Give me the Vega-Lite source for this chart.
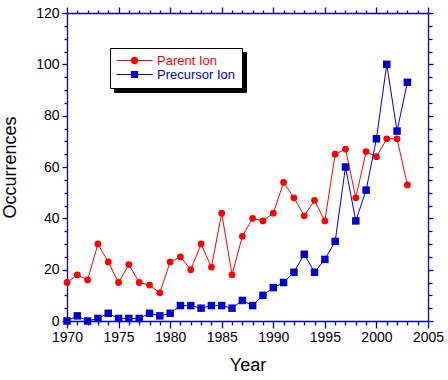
{
  "$schema": "https://vega.github.io/schema/vega-lite/v6.json",
  "width": 361,
  "height": 308,
  "autosize": {"type": "none"},
  "padding": {"left": 67, "top": 13, "right": 20, "bottom": 59},
  "background": "white",
  "config": {
    "view": {"stroke": null},
    "font": "Liberation Sans",
    "axis": {
      "domainColor": "#0000cc",
      "domainWidth": 1.3,
      "tickColor": "#0000cc",
      "tickWidth": 1.3,
      "labelColor": "black",
      "labelFont": "Liberation Sans",
      "labelFontSize": 14,
      "titleFont": "Liberation Sans",
      "titleFontSize": 18,
      "titleFontWeight": "normal",
      "titleColor": "black",
      "grid": false,
      "labelOverlap": false,
      "labelFlush": false
    }
  },
  "data": {
    "values": [
      {"year": 1970, "series": "Parent Ion", "value": 15},
      {"year": 1971, "series": "Parent Ion", "value": 18},
      {"year": 1972, "series": "Parent Ion", "value": 16},
      {"year": 1973, "series": "Parent Ion", "value": 30},
      {"year": 1974, "series": "Parent Ion", "value": 23},
      {"year": 1975, "series": "Parent Ion", "value": 15},
      {"year": 1976, "series": "Parent Ion", "value": 22},
      {"year": 1977, "series": "Parent Ion", "value": 15},
      {"year": 1978, "series": "Parent Ion", "value": 14},
      {"year": 1979, "series": "Parent Ion", "value": 11},
      {"year": 1980, "series": "Parent Ion", "value": 23},
      {"year": 1981, "series": "Parent Ion", "value": 25},
      {"year": 1982, "series": "Parent Ion", "value": 20},
      {"year": 1983, "series": "Parent Ion", "value": 30},
      {"year": 1984, "series": "Parent Ion", "value": 21},
      {"year": 1985, "series": "Parent Ion", "value": 42},
      {"year": 1986, "series": "Parent Ion", "value": 18},
      {"year": 1987, "series": "Parent Ion", "value": 33},
      {"year": 1988, "series": "Parent Ion", "value": 40},
      {"year": 1989, "series": "Parent Ion", "value": 39},
      {"year": 1990, "series": "Parent Ion", "value": 42},
      {"year": 1991, "series": "Parent Ion", "value": 54},
      {"year": 1992, "series": "Parent Ion", "value": 48},
      {"year": 1993, "series": "Parent Ion", "value": 41},
      {"year": 1994, "series": "Parent Ion", "value": 47},
      {"year": 1995, "series": "Parent Ion", "value": 39},
      {"year": 1996, "series": "Parent Ion", "value": 65},
      {"year": 1997, "series": "Parent Ion", "value": 67},
      {"year": 1998, "series": "Parent Ion", "value": 48},
      {"year": 1999, "series": "Parent Ion", "value": 66},
      {"year": 2000, "series": "Parent Ion", "value": 64},
      {"year": 2001, "series": "Parent Ion", "value": 71},
      {"year": 2002, "series": "Parent Ion", "value": 71},
      {"year": 2003, "series": "Parent Ion", "value": 53},
      {"year": 1970, "series": "Precursor Ion", "value": 0},
      {"year": 1971, "series": "Precursor Ion", "value": 2},
      {"year": 1972, "series": "Precursor Ion", "value": 0},
      {"year": 1973, "series": "Precursor Ion", "value": 1},
      {"year": 1974, "series": "Precursor Ion", "value": 3},
      {"year": 1975, "series": "Precursor Ion", "value": 1},
      {"year": 1976, "series": "Precursor Ion", "value": 1},
      {"year": 1977, "series": "Precursor Ion", "value": 1},
      {"year": 1978, "series": "Precursor Ion", "value": 3},
      {"year": 1979, "series": "Precursor Ion", "value": 2},
      {"year": 1980, "series": "Precursor Ion", "value": 3},
      {"year": 1981, "series": "Precursor Ion", "value": 6},
      {"year": 1982, "series": "Precursor Ion", "value": 6},
      {"year": 1983, "series": "Precursor Ion", "value": 5},
      {"year": 1984, "series": "Precursor Ion", "value": 6},
      {"year": 1985, "series": "Precursor Ion", "value": 6},
      {"year": 1986, "series": "Precursor Ion", "value": 5},
      {"year": 1987, "series": "Precursor Ion", "value": 8},
      {"year": 1988, "series": "Precursor Ion", "value": 6},
      {"year": 1989, "series": "Precursor Ion", "value": 10},
      {"year": 1990, "series": "Precursor Ion", "value": 13},
      {"year": 1991, "series": "Precursor Ion", "value": 15},
      {"year": 1992, "series": "Precursor Ion", "value": 19},
      {"year": 1993, "series": "Precursor Ion", "value": 26},
      {"year": 1994, "series": "Precursor Ion", "value": 19},
      {"year": 1995, "series": "Precursor Ion", "value": 24},
      {"year": 1996, "series": "Precursor Ion", "value": 31},
      {"year": 1997, "series": "Precursor Ion", "value": 60},
      {"year": 1998, "series": "Precursor Ion", "value": 39},
      {"year": 1999, "series": "Precursor Ion", "value": 51},
      {"year": 2000, "series": "Precursor Ion", "value": 71},
      {"year": 2001, "series": "Precursor Ion", "value": 100},
      {"year": 2002, "series": "Precursor Ion", "value": 74},
      {"year": 2003, "series": "Precursor Ion", "value": 93}
    ]
  },
  "layer": [
    {
      "transform": [{"filter": "false"}],
      "mark": {"type": "point", "filled": true},
      "encoding": {
        "x": {"field": "year", "type": "quantitative", "scale": {"domain": [1970, 2005], "nice": false, "zero": false}, "axis": null},
        "y": {"field": "value", "type": "quantitative", "scale": {"domain": [0, 120], "nice": false}, "axis": null},
        "color": {
          "field": "series", "type": "nominal",
          "scale": {"domain": ["Parent Ion", "Precursor Ion"], "range": ["black", "black"]},
          "legend": {
            "orient": "none", "legendX": 47, "legendY": 39, "title": null,
            "fillColor": "black", "strokeColor": "black", "padding": 6,
            "labelFontSize": 13, "labelFont": "Liberation Sans", "labelOpacity": 0,
            "labelExpr": "''",
            "labelOffset": 106,
            "symbolType": "M-1,-0.083H5V0.083H-1ZM1.4,-0.6H2.6V0.6H1.4Z",
            "symbolSize": 144, "symbolOpacity": 0, "rowPadding": 0
          }
        }
      }
    },
    {
      "mark": {"type": "line", "strokeWidth": 1},
      "encoding": {
        "x": {
          "field": "year", "type": "quantitative", "title": "Year",
          "scale": {"domain": [1970, 2005], "nice": false, "zero": false},
          "axis": {
            "orient": "bottom", "format": "d",
            "values": [1970,1971,1972,1973,1974,1975,1976,1977,1978,1979,1980,1981,1982,1983,1984,1985,1986,1987,1988,1989,1990,1991,1992,1993,1994,1995,1996,1997,1998,1999,2000,2001,2002,2003,2004,2005],
            "labelExpr": "datum.value % 5 == 0 ? datum.label : ''",
            "tickSize": {"condition": {"test": "datum.value % 5 == 0", "value": 7}, "value": 4},
            "labelPadding": 2, "titlePadding": 12
          }
        },
        "y": {
          "field": "value", "type": "quantitative", "title": "Occurrences",
          "scale": {"domain": [0, 120], "nice": false},
          "axis": {
            "orient": "left",
            "values": [0,5,10,15,20,25,30,35,40,45,50,55,60,65,70,75,80,85,90,95,100,105,110,115,120],
            "labelExpr": "datum.value % 20 == 0 ? datum.label : ''",
            "tickSize": {"condition": {"test": "datum.value % 20 == 0", "value": 5}, "value": 3},
            "labelPadding": 3, "titlePadding": 16
          }
        },
        "color": {
          "field": "series", "type": "nominal",
          "scale": {"domain": ["Parent Ion", "Precursor Ion"], "range": ["#ff0000", "#0000cc"]},
          "legend": null
        }
      }
    },
    {
      "mark": {"type": "point", "filled": true, "opacity": 1},
      "encoding": {
        "x": {
          "field": "year", "type": "quantitative",
          "scale": {"domain": [1970, 2005], "nice": false, "zero": false},
          "axis": {
            "orient": "top", "title": null, "labels": false,
            "values": [1970,1971,1972,1973,1974,1975,1976,1977,1978,1979,1980,1981,1982,1983,1984,1985,1986,1987,1988,1989,1990,1991,1992,1993,1994,1995,1996,1997,1998,1999,2000,2001,2002,2003,2004,2005],
            "tickSize": {"condition": {"test": "datum.value % 5 == 0", "value": 6}, "value": 3}
          }
        },
        "y": {
          "field": "value", "type": "quantitative",
          "scale": {"domain": [0, 120], "nice": false},
          "axis": {
            "orient": "right", "title": null, "labels": false,
            "values": [0,5,10,15,20,25,30,35,40,45,50,55,60,65,70,75,80,85,90,95,100,105,110,115,120],
            "tickSize": {"condition": {"test": "datum.value % 20 == 0", "value": 5}, "value": 4}
          }
        },
        "color": {
          "field": "series", "type": "nominal",
          "scale": {"domain": ["Parent Ion", "Precursor Ion"], "range": ["#ff0000", "#0000cc"]},
          "legend": null
        },
        "shape": {
          "field": "series", "type": "nominal",
          "scale": {"domain": ["Parent Ion", "Precursor Ion"], "range": ["circle", "square"]},
          "legend": null
        },
        "size": {
          "field": "series", "type": "nominal",
          "scale": {"domain": ["Parent Ion", "Precursor Ion"], "range": [46, 56]},
          "legend": null
        }
      }
    },
    {
      "transform": [{"filter": "false"}],
      "mark": {"type": "point", "filled": true, "opacity": 1},
      "encoding": {
        "x": {"field": "year", "type": "quantitative", "scale": {"domain": [1970, 2005], "nice": false, "zero": false}, "axis": null},
        "y": {"field": "value", "type": "quantitative", "scale": {"domain": [0, 120], "nice": false}, "axis": null},
        "color": {
          "field": "series", "type": "nominal",
          "scale": {"domain": ["Parent Ion", "Precursor Ion"], "range": ["#ff0000", "#0000cc"]},
          "legend": {
            "orient": "none", "legendX": 43, "legendY": 35, "title": null,
            "fillColor": "white", "strokeColor": "black", "padding": 6,
            "labelFontSize": 13, "labelFont": "Liberation Sans", "labelOffset": 28,
            "labelColor": {"expr": "datum.label == 'Parent Ion' ? '#ff0000' : '#0000cc'"},
            "symbolSize": 144, "symbolStrokeWidth": 0, "rowPadding": 0
          }
        },
        "shape": {
          "field": "series", "type": "nominal",
          "scale": {"domain": ["Parent Ion", "Precursor Ion"], "range": ["M-1,-0.083H5V0.083H-1ZM2.625,0A0.625,0.625,0,1,1,1.375,0A0.625,0.625,0,1,1,2.625,0Z", "M-1,-0.083H5V0.083H-1ZM1.4,-0.6H2.6V0.6H1.4Z"]},
          "legend": {
            "orient": "none", "legendX": 43, "legendY": 35, "title": null,
            "fillColor": "white", "strokeColor": "black", "padding": 6,
            "labelFontSize": 13, "labelFont": "Liberation Sans", "labelOffset": 28,
            "labelColor": {"expr": "datum.label == 'Parent Ion' ? '#ff0000' : '#0000cc'"},
            "symbolSize": 144, "symbolStrokeWidth": 0, "rowPadding": 0
          }
        }
      }
    }
  ],
  "resolve": {
    "scale": {"color": "independent", "shape": "independent", "size": "independent"},
    "axis": {"x": "independent", "y": "independent"},
    "legend": {"color": "independent", "shape": "independent"}
  }
}
